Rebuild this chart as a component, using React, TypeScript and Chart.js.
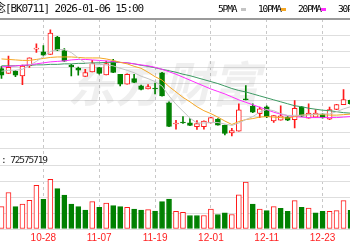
import React, { useEffect, useRef } from "react";
import { Chart, registerables } from "chart.js";

Chart.register(...registerables);

// ---------- data ----------
const dates = [
  "10-20", "10-21", "10-22", "10-23", "10-24", "10-27", "10-28", "10-29", "10-30", "10-31",
  "11-03", "11-04", "11-05", "11-06", "11-07", "11-10", "11-11", "11-12", "11-13", "11-14",
  "11-17", "11-18", "11-19", "11-20", "11-21", "11-24", "11-25", "11-26", "11-27", "11-28",
  "12-01", "12-02", "12-03", "12-04", "12-05", "12-08", "12-09", "12-10", "12-11", "12-12",
  "12-15", "12-16", "12-17", "12-18", "12-19", "12-22", "12-23", "12-24", "12-25", "12-26",
  "12-29",
];
const tickLabels = ["10-28", "11-07", "11-19", "12-01", "12-11", "12-23"];

const opens = [
  1330.7, 1325.7, 1328.3, 1323.3, 1333.7, 1350.5, 1347.7, 1345, 1362.7, 1349,
  1334.3, 1331.3, 1322.7, 1327.3, 1331.7, 1324.3, 1338.3, 1325, 1315, 1320.5,
  1313.3, 1310, 1311, 1326.5, 1296, 1274.5, 1276.5, 1275.7, 1271.7, 1271.7,
  1275.7, 1279.5, 1273.3, 1265.5, 1267.3, 1300, 1292.5, 1285, 1292, 1277.5,
  1278.3, 1281.5, 1279, 1292, 1280.5, 1281.5, 1284.5, 1279.5, 1289.3, 1294,
  1298.5,
];
const closes = [
  1324, 1332, 1324, 1333.3, 1341.7, 1351.5, 1344.3, 1366.7, 1349.3, 1338.3,
  1332.7, 1329, 1326.7, 1336, 1325.7, 1335.7, 1326.7, 1315, 1325, 1316.7,
  1309.5, 1312.5, 1310, 1303, 1272, 1275.5, 1275.5, 1273, 1275, 1277.5,
  1281, 1273.3, 1265, 1267.8, 1288.8, 1299, 1286.5, 1290, 1282, 1283,
  1282.7, 1278.3, 1290.5, 1282.5, 1285.5, 1285.5, 1281, 1289, 1294.3, 1299.3,
  1295,
];
const highs = [
  1333, 1343.3, 1329, 1334.3, 1341.7, 1355.7, 1354, 1370, 1363.5, 1351,
  1335, 1332.3, 1330, 1339, 1332, 1338.3, 1340, 1325, 1325.5, 1325,
  1314, 1314.5, 1316, 1327, 1297, 1278.3, 1282, 1280, 1278, 1277.7,
  1281.3, 1280, 1273.5, 1270, 1295, 1313.5, 1295, 1291.7, 1293, 1283,
  1293, 1282, 1298.3, 1292.5, 1295, 1289, 1285, 1291.7, 1294.5, 1309.3,
  1299,
];
const lows = [
  1320.7, 1325.7, 1322.5, 1314.3, 1332, 1347, 1344, 1345, 1349, 1338,
  1323.3, 1324, 1322.7, 1327.3, 1325, 1324.3, 1326.5, 1313, 1315, 1316.5,
  1309, 1310, 1305, 1302.7, 1271.7, 1269.3, 1275, 1272.7, 1269, 1269.3,
  1275.7, 1273.3, 1263.3, 1262.5, 1267.3, 1299, 1286, 1281, 1281, 1276,
  1278.3, 1278, 1270.5, 1282, 1280.5, 1281.5, 1280.5, 1279, 1289, 1294,
  1294,
];
const volumes = [
  34050000, 55500000, 34050000, 37950000, 43500000, 66450000, 45000000, 75450000, 61500000, 51450000,
  37950000, 34050000, 28950000, 41550000, 33000000, 39450000, 35550000, 34050000, 33000000, 30450000,
  28950000, 29550000, 27450000, 41550000, 45450000, 27000000, 25500000, 20550000, 20550000, 20550000,
  30450000, 22050000, 24450000, 22050000, 52050000, 71550000, 37950000, 30450000, 28050000, 34050000,
  31500000, 27000000, 43050000, 33000000, 31950000, 24450000, 27000000, 27000000, 28050000, 43050000,
  28500000,
];
// 1 = red (rising) volume bar, 0 = green
const volumeUp = [
  1, 1, 0, 1, 1, 1, 0, 1, 0, 0,
  0, 0, 0, 1, 0, 1, 0, 0, 1, 0,
  0, 1, 0, 0, 0, 1, 1, 0, 0, 1,
  1, 0, 0, 1, 1, 1, 0, 1, 0, 1,
  0, 0, 1, 0, 1, 0, 0, 1, 1, 1,
  0,
];
const ma5 = [
  1328, 1329, 1329, 1330, 1334, 1338, 1343, 1348, 1350, 1350,
  1347, 1341.5, 1336.5, 1335.5, 1335, 1334.5, 1333.5, 1331, 1329, 1326.5,
  1323, 1320.5, 1317.5, 1313, 1303, 1294.5, 1287.5, 1280.5, 1275.5, 1275.5,
  1276, 1276, 1274.5, 1273, 1275.5, 1279, 1282, 1286.5, 1289.3, 1288,
  1285, 1283.2, 1283.3, 1283.4, 1283.9, 1284.5, 1284.8, 1284.7, 1287, 1289.8,
  1292,
];
const ma10 = [
  1340.5, 1340, 1339.5, 1339, 1339, 1340, 1341, 1342, 1342.5, 1342.5,
  1342.5, 1342, 1341.5, 1341.5, 1341.5, 1340.5, 1339, 1337, 1335.5, 1333,
  1331, 1327, 1322.5, 1319, 1312.5, 1307, 1301.5, 1297, 1292, 1288,
  1285, 1281.5, 1277.5, 1274, 1277, 1279, 1280, 1281.5, 1282, 1281.5,
  1281, 1280.5, 1282, 1283.5, 1284, 1284, 1284, 1283.5, 1283.5, 1284,
  1284.5,
];
const ma20 = [
  1332.5, 1333, 1333.5, 1334, 1334.5, 1335.5, 1336.5, 1337.5, 1338, 1338.5,
  1339.5, 1340, 1340, 1339.5, 1339, 1338.5, 1338, 1337, 1336.5, 1335.5,
  1334.5, 1333.5, 1332, 1330, 1327.5, 1325, 1322, 1319, 1316, 1313,
  1310, 1307.5, 1305, 1302, 1299, 1296.5, 1294, 1291.5, 1289, 1286.5,
  1284.5, 1283, 1282, 1281.5, 1281, 1281, 1281, 1281, 1281, 1281.5,
  1282,
];
const ma30 = [
  1333.5, 1333.5, 1333.5, 1334, 1334, 1334.5, 1334.5, 1335, 1335, 1335.5,
  1335.5, 1336, 1336, 1336.5, 1336.5, 1337, 1337, 1337, 1336.5, 1335.5,
  1334, 1333, 1331.5, 1330, 1328.5, 1327, 1325, 1323.5, 1321.5, 1319.5,
  1317.5, 1315.5, 1313, 1310.5, 1308.5, 1307, 1305, 1303, 1301, 1299,
  1297, 1295, 1293, 1292, 1290.5, 1289.5, 1288.5, 1288, 1287, 1286,
  1285.5,
];

const headerText = "念[BK0711] 2026-01-06 15:00";
const volumeLabel = ": 72575719";
const watermarkText = "东方财富";
const legendItems = [
  { label: "5PMA", color: "#c4c4c4" },
  { label: "10PMA", color: "#f5a623" },
  { label: "20PMA", color: "#ff2cff" },
  { label: "30PMA", color: "#3d9a63" },
];

const priceMin = 1249.5;
const priceMax = 1381;
const priceGridCount = 8;
const volMax = 122250000;
const volTickStep = 24000000;
const volTickCount = 4;

// ---------- styles ----------
const RED = "#ff1a1a";
const GREEN = "#008000";
const MONO = '"DejaVu Sans Mono", "Liberation Mono", "Noto Sans CJK SC", monospace';

const watermarkPlugin = {
  id: "watermark",
  beforeDatasetsDraw(chart: any) {
    const { ctx, chartArea } = chart;
    const yP = chart.scales.yP;
    ctx.save();
    ctx.font = 'italic bold 48px "Noto Sans CJK SC"';
    ctx.fillStyle = "rgba(120,120,120,0.12)";
    ctx.textAlign = "center";
    ctx.textBaseline = "middle";
    ctx.fillText(watermarkText, chartArea.left + chartArea.width * 0.465, (yP.top + yP.bottom) / 2);
    ctx.restore();
  },
};

function App() {
  const ref = useRef<HTMLCanvasElement | null>(null);

  useEffect(() => {
    if (!ref.current) return;
    const up = closes.map((c, i) => c >= opens[i]);
    const line = (label: string, data: number[], color: string) => ({
      type: "line",
      label,
      data,
      yAxisID: "yP",
      borderColor: color,
      borderWidth: 1,
      pointRadius: 0,
      order: 0,
    });
    const chart = new Chart(ref.current, {
      type: "bar",
      data: {
        labels: dates,
        datasets: [
          line("MA5", ma5, legendItems[0].color),
          line("MA10", ma10, legendItems[1].color),
          line("MA20", ma20, legendItems[2].color),
          line("MA30", ma30, legendItems[3].color),
          {
            type: "bar",
            label: "body",
            data: opens.map((o, i) => [o, closes[i]]) as any,
            yAxisID: "yP",
            backgroundColor: up.map((u) => (u ? "#ffffff" : GREEN)),
            borderColor: up.map((u) => (u ? RED : GREEN)),
            borderWidth: 1,
            borderSkipped: false,
            barThickness: 5,
            grouped: false,
            order: 1,
          },
          {
            type: "bar",
            label: "wick",
            data: lows.map((l, i) => [l, highs[i]]) as any,
            yAxisID: "yP",
            backgroundColor: up.map((u) => (u ? RED : GREEN)),
            borderWidth: 0,
            barThickness: 1,
            grouped: false,
            order: 2,
          },
          {
            type: "bar",
            label: "volume",
            data: volumes,
            yAxisID: "yV",
            backgroundColor: volumeUp.map((u) => (u ? "#ffffff" : GREEN)),
            borderColor: volumeUp.map((u) => (u ? RED : GREEN)),
            borderWidth: 1,
            borderSkipped: false,
            barThickness: 5,
            grouped: false,
            order: 1,
          },
        ] as any,
      },
      options: {
        animation: false,
        responsive: false,
        events: [],
        layout: { padding: { top: 19, bottom: 3, left: 0, right: 0 } },
        plugins: {
          legend: { display: false },
          tooltip: { enabled: false },
          title: { display: false },
        },
        scales: {
          x: {
            type: "category",
            offset: true,
            grid: {
              display: true,
              offset: false,
              drawTicks: false,
              lineWidth: 1,
              color: (c: any) =>
                tickLabels.includes(dates[c.index]) ? "#c8c8c8" : "rgba(0,0,0,0)",
            },
            border: { display: false, dash: [3, 3] },
            ticks: {
              autoSkip: false,
              maxRotation: 0,
              padding: 3,
              color: "#ff2020",
              font: { family: "Liberation Sans", size: 10 },
              callback: (_v: any, i: number) => (tickLabels.includes(dates[i]) ? dates[i] : ""),
            },
          },
          yP: {
            type: "linear",
            position: "left",
            stack: "k",
            stackWeight: 131.5,
            weight: 2,
            min: priceMin,
            max: priceMax,
            afterBuildTicks: (s: any) => {
              s.ticks = Array.from({ length: priceGridCount + 1 }, (_, k) => ({
                value: priceMin + (k * (priceMax - priceMin)) / priceGridCount,
              }));
            },
            ticks: { display: false },
            grid: {
              drawTicks: false,
              color: (c: any) => (c.index === priceGridCount ? "#9a9a9a" : "#dedede"),
              lineWidth: (c: any) => (c.index === priceGridCount ? 2 : 1),
            },
            border: { display: false },
          },
          yV: {
            type: "linear",
            position: "left",
            stack: "k",
            stackWeight: 81.5,
            weight: 1,
            min: 0,
            max: volMax,
            afterBuildTicks: (s: any) => {
              s.ticks = Array.from({ length: volTickCount + 1 }, (_, k) => ({
                value: k * volTickStep,
              }));
            },
            ticks: { display: false },
            grid: { drawTicks: false, color: "#dedede", lineWidth: 1 },
            border: { display: false },
          },
        },
      } as any,
      plugins: [watermarkPlugin],
    });
    return () => chart.destroy();
  }, []);

  const legendX = [218, 258, 298, 338];

  return (
    <div
      style={{
        position: "fixed",
        left: 0,
        top: 0,
        width: 350,
        height: 250,
        overflow: "hidden",
        background: "#ffffff",
      }}
    >
      <canvas
        ref={ref}
        width={356}
        height={250}
        style={{ position: "absolute", left: -2, top: 0, width: 356, height: 250 }}
      />
      <div
        style={{
          position: "absolute",
          left: -5,
          top: 2,
          fontFamily: MONO,
          fontSize: 11,
          letterSpacing: "-0.1em",
          color: "#111",
          whiteSpace: "nowrap",
          lineHeight: "14px",
        }}
      >
        {headerText}
      </div>
      {legendItems.map((it, i) => (
        <div
          key={it.label}
          style={{
            position: "absolute",
            left: legendX[i],
            top: 2,
            height: 14,
            width: 40,
            whiteSpace: "nowrap",
          }}
        >
          <span
            style={{
              position: "absolute",
              left: 0,
              top: 0,
              fontFamily: MONO,
              fontSize: 9.5,
              letterSpacing: "-0.12em",
              lineHeight: "14px",
              color: "#000",
            }}
          >
            {it.label}
          </span>
          <span
            style={{
              position: "absolute",
              left: 23,
              top: 6,
              width: 5,
              height: 3,
              background: it.color,
            }}
          />
        </div>
      ))}
      <div
        style={{
          position: "absolute",
          left: 1,
          top: 153,
          fontFamily: MONO,
          fontSize: 9.5,
          letterSpacing: "-0.12em",
          color: "#222",
          whiteSpace: "nowrap",
          lineHeight: "14px",
        }}
      >
        {volumeLabel}
      </div>
    </div>
  );
}

export default App;
